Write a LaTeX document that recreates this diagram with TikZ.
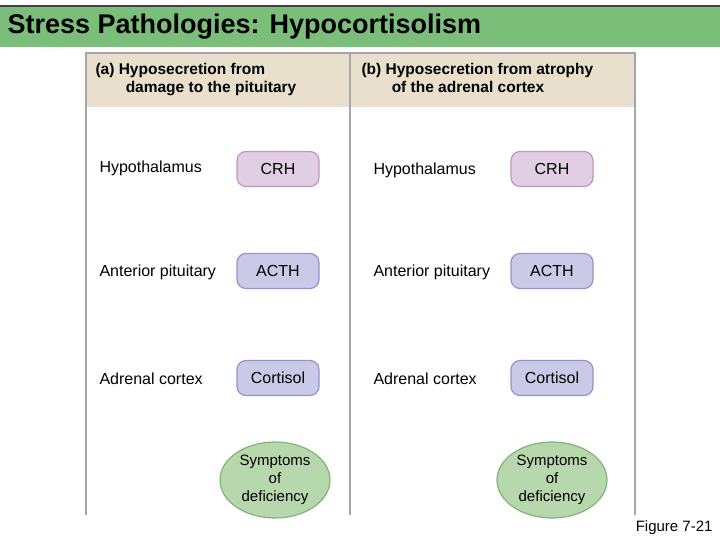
\documentclass[tikz,border=0pt]{standalone}
\usepackage{fontspec}
\setmainfont{Liberation Sans}
\usepackage{tikz}
\usetikzlibrary{shapes.geometric}
\definecolor{titlegreen}{RGB}{122,190,122}
\definecolor{headbeige}{RGB}{232,224,204}
\definecolor{crhfill}{RGB}{226,206,226}
\definecolor{crhline}{RGB}{190,150,190}
\definecolor{horfill}{RGB}{202,202,232}
\definecolor{horline}{RGB}{148,148,200}
\definecolor{sympfill}{RGB}{182,216,172}
\definecolor{sympline}{RGB}{128,180,118}
\tikzset{
	hormone/.style={draw=#1line, fill=#1fill, line width=1.2pt, rounded corners=9pt,
		minimum width=82pt, minimum height=35pt, font=\fontsize{16}{18}\selectfont},
	symptom/.style={ellipse, draw=sympline, fill=sympfill, line width=1.2pt,
		minimum width=110pt, minimum height=76pt, inner sep=0pt, align=center,
		font=\fontsize{15}{18}\selectfont},
	gland/.style={anchor=west, font=\fontsize{16}{18}\selectfont},
	header/.style={anchor=north west, align=left, font=\bfseries\fontsize{15.5}{18}\selectfont}
}
\begin{document}
\begin{tikzpicture}[x=1pt,y=-1pt]
	\useasboundingbox (0,0) rectangle (720,540);
	\fill [white] (0,0) rectangle (720,540);
	\fill [titlegreen] (0,6) rectangle (720,47);
	\draw [black!75, line width=2pt] (0,6) -- (720,6);
	\node [anchor=west, font=\bfseries\fontsize{27}{30}\selectfont] (title) at (4,27) {Stress Pathologies: Hypocortisolism};
	
	\fill [headbeige] (86,54) rectangle (635,107);
	\draw [black!35, line width=2pt] (86,515) -- (86,53) -- (635,53) -- (635,515);
	\draw [black!35, line width=2pt] (350,53) -- (350,515);
	
	\node [header] (heada) at (92,60) {(a) Hyposecretion from\\\hspace{1.95em}damage to the pituitary};
	\node [header] (headb) at (358,60) {(b) Hyposecretion from atrophy\\\hspace{1.95em}of the adrenal cortex};
	
	% panel (a)
	\node [gland] (hypoa) at (96,168) {Hypothalamus};
	\node [gland] (anta) at (96,272) {Anterior pituitary};
	\node [gland] (adra) at (96,379) {Adrenal cortex};
	\node [hormone=crh] (crha) at (278,169) {CRH};
	\node [hormone=hor] (actha) at (278,271) {ACTH};
	\node [hormone=hor] (corta) at (278,378) {Cortisol};
	\node [symptom] (sympa) at (275,480) {Symptoms\\of\\deficiency};
	
	% panel (b)
	\node [gland] (hypob) at (370,170) {Hypothalamus};
	\node [gland] (antb) at (370,272) {Anterior pituitary};
	\node [gland] (adrb) at (370,379) {Adrenal cortex};
	\node [hormone=crh] (crhb) at (552,169) {CRH};
	\node [hormone=hor] (acthb) at (552,271) {ACTH};
	\node [hormone=hor] (cortb) at (552,378) {Cortisol};
	\node [symptom] (sympb) at (552,480) {Symptoms\\of\\deficiency};
	
	\node [anchor=east, font=\fontsize{15}{17}\selectfont] (fig) at (716,528) {Figure 7-21};
\end{tikzpicture}
\end{document}
